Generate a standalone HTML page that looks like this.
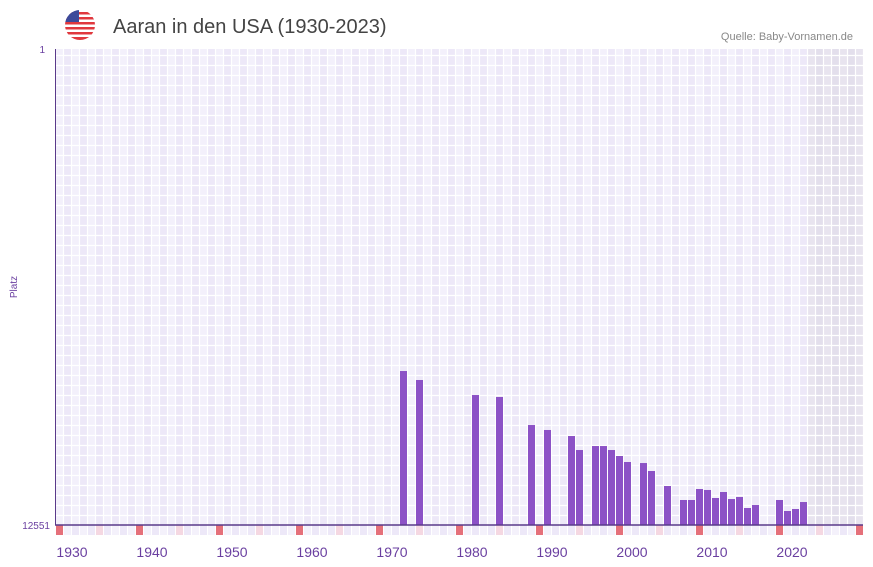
<!DOCTYPE html>
<html><head><meta charset="utf-8"><style>
body{margin:0;background:#fff;font-family:"Liberation Sans",sans-serif}
svg{display:block}
</style></head><body>
<svg id="c" width="873" height="567">
<g>
<clipPath id="fc"><circle cx="80" cy="25" r="15"/></clipPath>
<g clip-path="url(#fc)">
<rect x="65" y="10" width="30" height="30" fill="#fff"/>
<rect x="65" y="12" width="30" height="2.5" fill="#e0383e"/>
<rect x="65" y="17" width="30" height="2.5" fill="#e0383e"/>
<rect x="65" y="22" width="30" height="2.5" fill="#e0383e"/>
<rect x="65" y="27" width="30" height="2.5" fill="#e0383e"/>
<rect x="65" y="32" width="30" height="2.5" fill="#e0383e"/>
<rect x="65" y="37" width="30" height="3" fill="#e0383e"/>
<rect x="65" y="10" width="14" height="12" fill="#3c4a9a"/>
</g></g>
<text x="113" y="33" font-size="20" fill="#444">Aaran in den USA (1930-2023)</text>
<text x="853" y="40" font-size="11" fill="#888" text-anchor="end">Quelle: Baby-Vornamen.de</text>
<text transform="translate(17,287) rotate(-90)" font-size="10" fill="#6a3fa0" text-anchor="middle">Platz</text>
<text x="45" y="53" font-size="10" fill="#6a3fa0" text-anchor="end">1</text>
<text x="50" y="529" font-size="10" fill="#6a3fa0" text-anchor="end">12551</text>
<g id="grid"></g><g id="bars"></g><g id="marks"></g><g id="xlab"></g>
<line x1="55.5" y1="49" x2="55.5" y2="525" stroke="#5a3a8a" stroke-width="1"/>
<line x1="55" y1="525" x2="863" y2="525" stroke="#5a3a8a" stroke-width="1.5"/>
</svg>
<script>
const years=[1973,1975,1982,1985,1989,1991,1994,1995,1997,1998,1999,2000,2001,2003,2004,2006,2008,2009,2010,2011,2012,2013,2014,2015,2016,2017,2020,2021,2022,2023];
const ranks=[8491,8728,9124,9176,9915,10046,10205,10574,10469,10469,10574,10732,10890,10917,11127,11523,11892,11892,11602,11628,11839,11681,11866,11813,12103,12024,11892,12182,12129,11945];
const xLabels=[1930,1940,1950,1960,1970,1980,1990,2000,2010,2020];
const firstYear=1930, maxRank=12551;
const X0=55,CW=8,NC=101,Y0=49,Y1=525;
const ns="http://www.w3.org/2000/svg";
function xs(y){return X0+(y-firstYear)*CW;}
function ys(r){return Y0+(r-1)/(maxRank-1)*(Y1-Y0);}
function mk(t,a,p){const e=document.createElementNS(ns,t);for(const k in a)e.setAttribute(k,a[k]);p.appendChild(e);return e;}
const g=document.getElementById('grid');
for(let i=0;i<NC;i++){
 const fut=i>=94;
 const c=fut?(i%2?'#e3dfec':'#e8e4ef'):(i%2?'#ede8f8':'#f3f0fb');
 const r=mk('rect',{x:X0+i*CW,y:Y0,width:CW,height:Y1-Y0,fill:c},g);
 
 
}
for(let i=0;i<=NC;i++){mk('line',{x1:X0+i*CW+0.5,y1:Y0,x2:X0+i*CW+0.5,y2:Y1,stroke:'#fff','stroke-width':1.2},g);}
for(let y=Y1-10;y>Y0;y-=10){mk('line',{x1:X0,y1:y+0.5,x2:863,y2:y+0.5,stroke:'#fff','stroke-width':1.2},g);}
const m=document.getElementById('marks');
for(let i=0;i<NC;i++){
 const yr=firstYear+i;
 let c=(i%2?'#f4f1fb':'#ede8f8');
 if(yr%10===0)c='#e5707a';else if(yr%10===5)c='#f5d8e2';
 const r=mk('rect',{x:X0+i*CW+1,y:Y1,width:CW-1,height:10,fill:c},m);
 
 
}
const b=document.getElementById('bars');
years.forEach((yr,k)=>{
 const top=ys(ranks[k]);
 const r=mk('rect',{x:xs(yr)+1,y:top,width:CW-1,height:Y1-top,fill:'#8c52c6'},b);
 
 
});
const xl=document.getElementById('xlab');
xLabels.forEach(yr=>{
 const t=mk('text',{x:xs(yr)+17,y:557,'font-size':14,fill:'#6a3fa0','text-anchor':'middle'},xl);
 t.textContent=yr;
 
 
});
</script>
</body></html>
